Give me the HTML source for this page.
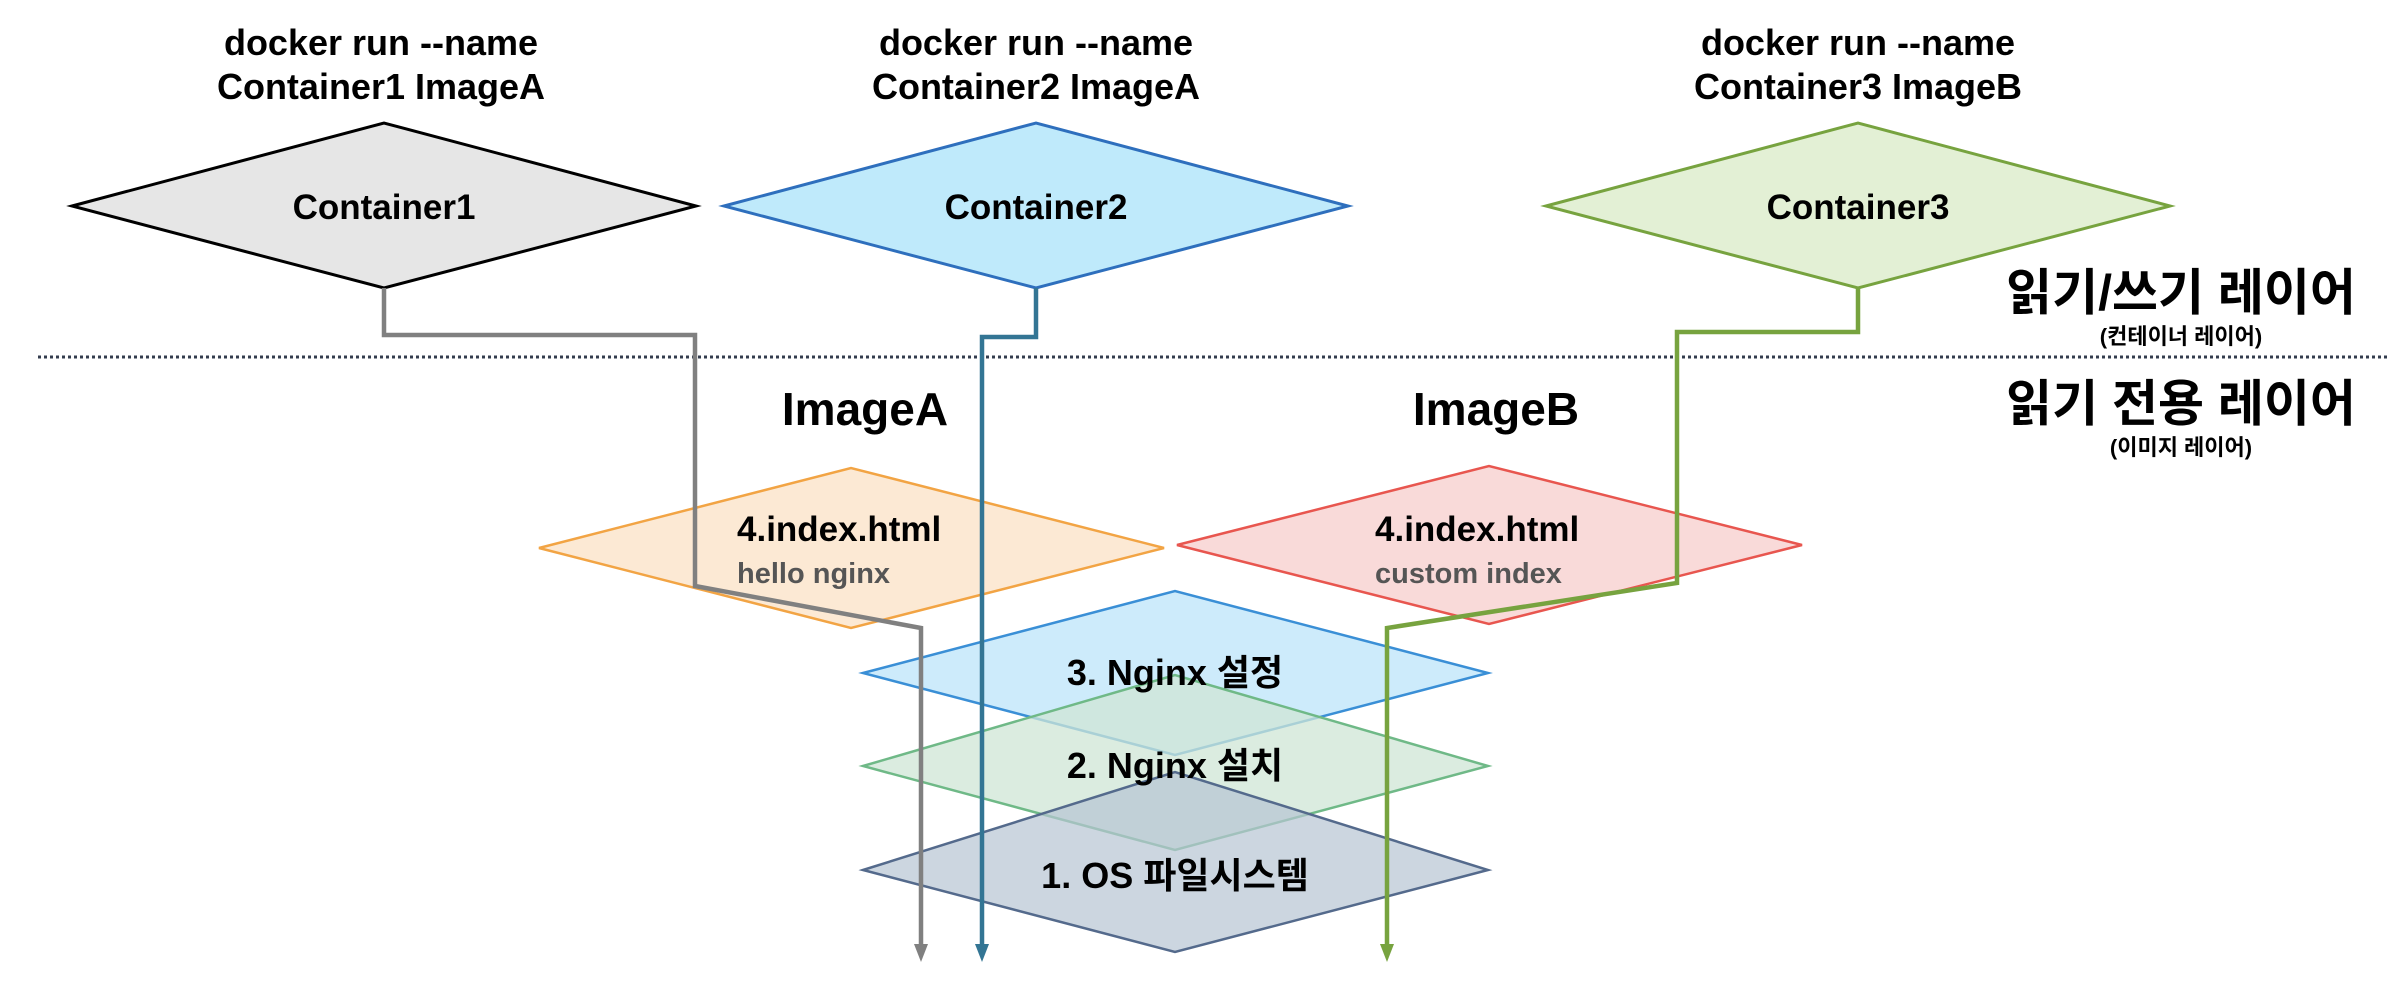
<!DOCTYPE html>
<html><head><meta charset="utf-8"><style>
html,body{margin:0;padding:0;background:#fff;width:2388px;height:998px;overflow:hidden}
text{font-family:"Liberation Sans","Noto Sans CJK KR",sans-serif;font-weight:bold}
</style></head><body>
<svg width="2388" height="998" viewBox="0 0 2388 998" xmlns="http://www.w3.org/2000/svg">
<g text-anchor="middle" font-size="36" fill="#000">
<text x="381" y="55">docker run --name</text><text x="381" y="99">Container1 ImageA</text>
<text x="1036" y="55">docker run --name</text><text x="1036" y="99">Container2 ImageA</text>
<text x="1858" y="55">docker run --name</text><text x="1858" y="99">Container3 ImageB</text>
</g>
<polygon points="72,206 384,123 696,206 384,288" fill="#e6e6e6" stroke="#000" stroke-width="3"/>
<polygon points="724,206 1036,123 1348,206 1036,288" fill="#bfeafb" stroke="#2e6fbd" stroke-width="3"/>
<polygon points="1546,206 1858,123 2170,206 1858,288" fill="#e3f0d5" stroke="#77a33f" stroke-width="3"/>
<g text-anchor="middle" font-size="35">
<text x="384" y="219">Container1</text><text x="1036" y="219">Container2</text><text x="1858" y="219">Container3</text>
</g>
<line x1="38" y1="357" x2="2388" y2="357" stroke="#333c4e" stroke-width="3" stroke-dasharray="3,3"/>
<g font-size="50" text-anchor="middle"><text x="2181" y="310">읽기/쓰기 레이어</text><text x="2181" y="421">읽기 전용 레이어</text></g>
<g font-size="22" text-anchor="middle"><text x="2181" y="344">(컨테이너 레이어)</text><text x="2181" y="455">(이미지 레이어)</text></g>
<g font-size="46" text-anchor="middle"><text x="865" y="425">ImageA</text><text x="1496" y="425">ImageB</text></g>
<polygon points="539,548 851,468 1164,548 851,628" fill="#fce9d4" stroke="#f2a444" stroke-width="2.5"/>
<polygon points="1177,545 1489,466 1802,545 1489,624" fill="#f9dad9" stroke="#e8564f" stroke-width="2.5"/>
<polygon points="863,673 1175,591 1488,673 1175,755" fill="#c8e9fb" fill-opacity="0.9" stroke="#3a8fd6" stroke-width="2.5"/>
<polygon points="863,766 1175,675 1488,766 1175,850" fill="#cfe6d6" fill-opacity="0.75" stroke="#6fb987" stroke-width="2.5"/>
<polygon points="863,870 1175,772 1488,870 1175,952" fill="#b6c5d3" fill-opacity="0.7" stroke="#546a8c" stroke-width="2.5"/>
<g font-size="36" text-anchor="middle">
<text x="1175" y="685">3. Nginx 설정</text><text x="1175" y="778">2. Nginx 설치</text><text x="1175" y="888">1. OS 파일시스템</text>
</g>
<g font-size="35"><text x="737" y="541">4.index.html</text><text x="1375" y="541">4.index.html</text></g>
<g font-size="29" fill="#555"><text x="737" y="583">hello nginx</text><text x="1375" y="583">custom index</text></g>
<g fill="none" stroke-width="4.5">
<polyline points="384,288 384,335 695,335 695,586 921,628 921,948" stroke="#808080"/>
<polyline points="1036,288 1036,337 982,337 982,948" stroke="#337594"/>
<polyline points="1858,288 1858,332 1677,332 1677,583 1387,628 1387,948" stroke="#77a33f"/>
</g>
<polygon points="914,944 928,944 921,962" fill="#808080"/>
<polygon points="975,944 989,944 982,962" fill="#337594"/>
<polygon points="1380,944 1394,944 1387,962" fill="#77a33f"/>
</svg>
</body></html>
